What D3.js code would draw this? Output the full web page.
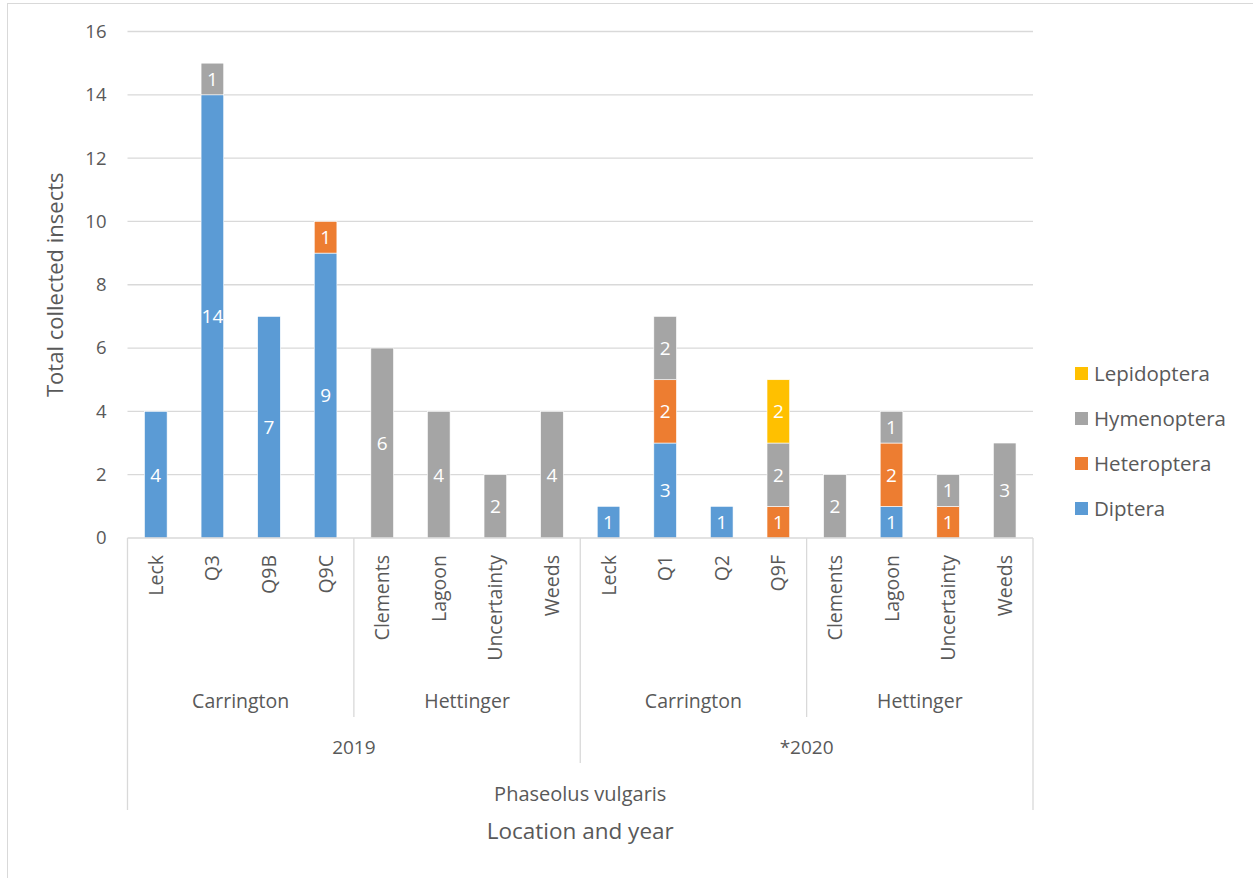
<!DOCTYPE html>
<html>
<head>
<meta charset="utf-8">
<script src="https://cdn.jsdelivr.net/npm/d3@7"></script>
<style>
  body { margin: 0; background: #fff; }
  text { font-family: "Open Sans", Lato, sans-serif; fill: #595959; }
</style>
</head>
<body>
<svg width="1253" height="878"></svg>
<script>
// chart values
const sites = ["Leck", "Q3", "Q9B", "Q9C", "Clements", "Lagoon", "Uncertainty", "Weeds",
               "Leck", "Q1", "Q2", "Q9F", "Clements", "Lagoon", "Uncertainty", "Weeds"];
const locations = ["Carrington", "Carrington", "Carrington", "Carrington",
                   "Hettinger", "Hettinger", "Hettinger", "Hettinger",
                   "Carrington", "Carrington", "Carrington", "Carrington",
                   "Hettinger", "Hettinger", "Hettinger", "Hettinger"];
const years = ["2019", "2019", "2019", "2019", "2019", "2019", "2019", "2019",
               "*2020", "*2020", "*2020", "*2020", "*2020", "*2020", "*2020", "*2020"];
const crop = "Phaseolus vulgaris";

const orders = ["Diptera", "Heteroptera", "Hymenoptera", "Lepidoptera"];
const diptera     = [4, 14, 7, 9, 0, 0, 0, 0, 1, 3, 1, 0, 0, 1, 0, 0];
const heteroptera = [0, 0, 0, 1, 0, 0, 0, 0, 0, 2, 0, 1, 0, 2, 1, 0];
const hymenoptera = [0, 1, 0, 0, 6, 4, 2, 4, 0, 2, 0, 2, 2, 1, 1, 3];
const lepidoptera = [0, 0, 0, 0, 0, 0, 0, 0, 0, 0, 0, 2, 0, 0, 0, 0];
const colors = ["#5B9BD5", "#ED7D31", "#A5A5A5", "#FFC000"];
const yTicks = [0, 2, 4, 6, 8, 10, 12, 14, 16];

const svg = d3.select("svg");
const plotL = 127.5, plotR = 1033, plotT = 31.5, plotB = 538;

// outer chart border
svg.append("rect")
  .attr("x", 7.5).attr("y", 3.5)
  .attr("width", 1300).attr("height", 950)
  .attr("fill", "none").attr("stroke", "#D9D9D9").attr("stroke-width", 1);

const idx = d3.range(sites.length);
const x = d3.scaleBand().domain(idx).range([plotL, plotR]).paddingInner(0.6).paddingOuter(0.3);
const y = d3.scaleLinear().domain([0, 16]).range([plotB, plotT]);

// gridlines
svg.append("g").selectAll("line").data(yTicks.slice(1)).join("line")
  .attr("x1", plotL).attr("x2", plotR)
  .attr("y1", d => y(d)).attr("y2", d => y(d))
  .attr("stroke", "#D9D9D9").attr("stroke-width", 1.3);

// y axis labels
const yAxis = svg.append("g")
  .attr("transform", `translate(${plotL - 21},0)`)
  .call(d3.axisLeft(y).tickValues(yTicks).tickSize(0).tickPadding(0));
yAxis.select(".domain").remove();
yAxis.selectAll("text").style("font-size", "18.5px").attr("fill", "#595959")
  .style("font-family", "'Open Sans', sans-serif");

svg.append("text")
  .attr("transform", `translate(63,${(plotT + plotB) / 2}) rotate(-90)`)
  .attr("text-anchor", "middle")
  .style("font-size", "22px")
  .text("Total collected insects");

// stacked bars
const rows = idx.map(i => ({
  i,
  Diptera: diptera[i], Heteroptera: heteroptera[i],
  Hymenoptera: hymenoptera[i], Lepidoptera: lepidoptera[i]
}));
const series = d3.stack().keys(orders)(rows);
const color = d3.scaleOrdinal().domain(orders).range(colors);

const layer = svg.append("g").selectAll("g").data(series).join("g")
  .attr("fill", s => color(s.key));
layer.selectAll("rect").data(s => s.filter(d => d[1] > d[0])).join("rect")
  .attr("x", d => x(d.data.i))
  .attr("width", x.bandwidth())
  .attr("y", d => y(d[1]))
  .attr("height", d => y(d[0]) - y(d[1]))
  .attr("stroke", "#fff").attr("stroke-width", 0.6);
layer.selectAll("text").data(s => s.filter(d => d[1] > d[0])).join("text")
  .attr("x", d => x(d.data.i) + x.bandwidth() / 2)
  .attr("y", d => y((d[0] + d[1]) / 2))
  .attr("dy", "0.36em")
  .attr("text-anchor", "middle")
  .style("font-size", "19px")
  .style("fill", "#fff")
  .text(d => d[1] - d[0]);

// multi-level category axis
const axisColor = "#D9D9D9";
const ax = svg.append("g");
ax.append("line").attr("x1", plotL).attr("x2", plotR).attr("y1", plotB).attr("y2", plotB)
  .attr("stroke", axisColor).attr("stroke-width", 1.3);

ax.selectAll("text.site").data(idx).join("text")
  .attr("class", "site")
  .attr("transform", i => `translate(${x(i) + x.bandwidth() / 2},555) rotate(-90)`)
  .attr("text-anchor", "end")
  .attr("dy", "0.36em")
  .style("font-size", "19.5px")
  .text(i => sites[i]);

const step = x.step();
const edge = i => plotL + x.paddingOuter() * step + i * step - (x.paddingInner() * step) / 2;
const colEdge = i => i === 0 ? plotL : (i === sites.length ? plotR : edge(i));

function spans(keyOf) {
  const out = [];
  idx.forEach(i => {
    const k = keyOf(i);
    const last = out[out.length - 1];
    if (last && last.key === k) last.end = i + 1;
    else out.push({ key: k, start: i, end: i + 1 });
  });
  return out;
}
const locSpans = spans(i => years[i] + "|" + locations[i]);
const yearSpans = spans(i => years[i]);

// separator lines
const yearBounds = new Set(yearSpans.map(s => s.start).concat([sites.length]));
const locBounds = new Set(locSpans.map(s => s.start).concat([sites.length]));
const bounds = Array.from(locBounds).map(b => ({
  b,
  y2: (b === 0 || b === sites.length) ? 810 : (yearBounds.has(b) ? 763 : 717)
}));
ax.selectAll("line.sep").data(bounds).join("line")
  .attr("class", "sep")
  .attr("x1", d => colEdge(d.b)).attr("x2", d => colEdge(d.b))
  .attr("y1", plotB).attr("y2", d => d.y2)
  .attr("stroke", axisColor).attr("stroke-width", 1.3);

ax.selectAll("text.loc").data(locSpans).join("text")
  .attr("class", "loc")
  .attr("x", s => (colEdge(s.start) + colEdge(s.end)) / 2)
  .attr("y", 701).attr("dy", "0.36em")
  .attr("text-anchor", "middle")
  .style("font-size", "19.5px")
  .text(s => s.key.split("|")[1]);

ax.selectAll("text.year").data(yearSpans).join("text")
  .attr("class", "year")
  .attr("x", s => (colEdge(s.start) + colEdge(s.end)) / 2)
  .attr("y", 747).attr("dy", "0.36em")
  .attr("text-anchor", "middle")
  .style("font-size", "19px")
  .text(s => s.key);

ax.append("text")
  .attr("x", (plotL + plotR) / 2).attr("y", 794).attr("dy", "0.36em")
  .attr("text-anchor", "middle")
  .style("font-size", "20px")
  .text(crop);

svg.append("text")
  .attr("x", (plotL + plotR) / 2).attr("y", 831).attr("dy", "0.36em")
  .attr("text-anchor", "middle")
  .style("font-size", "22.5px")
  .text("Location and year");

// legend, top entry is the last series
const legend = svg.append("g").selectAll("g").data(orders.slice().reverse()).join("g")
  .attr("transform", (d, i) => `translate(1075,${374 + i * 45})`);
legend.append("rect").attr("x", 0).attr("y", -7).attr("width", 13).attr("height", 13)
  .attr("fill", d => color(d));
legend.append("text").attr("x", 19).attr("dy", "0.36em")
  .style("font-size", "20.5px")
  .text(d => d);
</script>
</body>
</html>
